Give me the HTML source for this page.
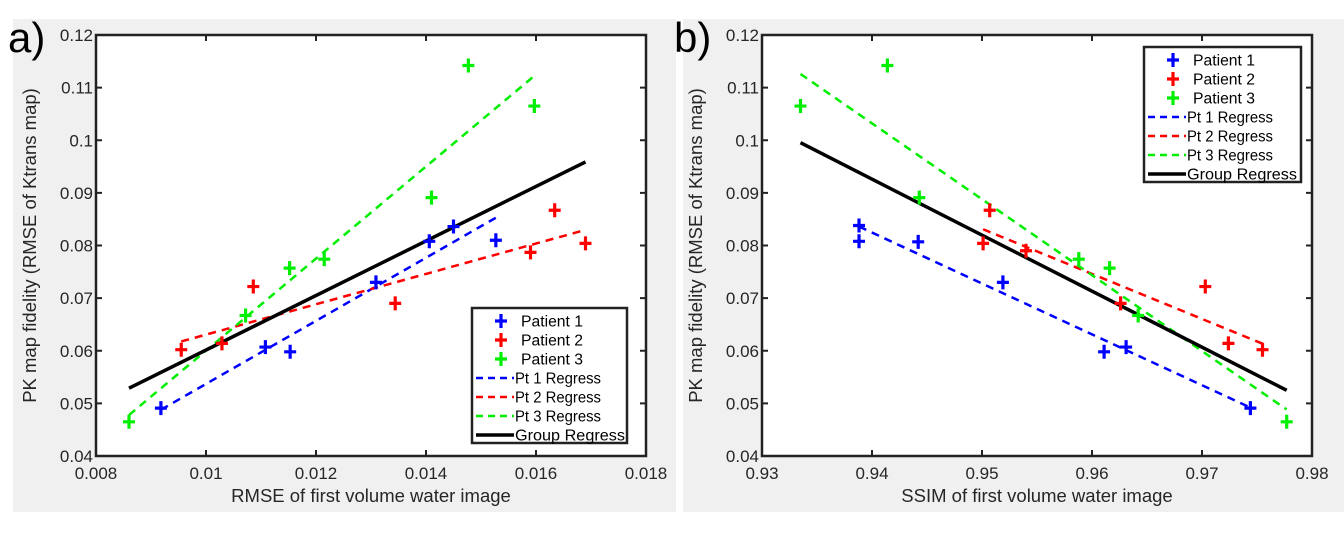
<!DOCTYPE html>
<html><head><meta charset="utf-8"><style>
html,body{margin:0;padding:0;background:#fff;}
svg{display:block;font-family:"Liberation Sans",sans-serif;}
</style></head><body>
<svg id="fig" width="1344" height="550" viewBox="0 0 1344 550">
<rect x="13" y="19" width="663" height="493" fill="#f0f0f0"/>
<rect x="683" y="19" width="661" height="493" fill="#f0f0f0"/>
<text x="8" y="52" font-size="42" fill="#000">a)</text>
<text x="674" y="52" font-size="42" fill="#000">b)</text>
</svg>
<script>
const ktrans1=[0.0491,0.0607,0.0598,0.0730,0.0808,0.0836,0.0810];
const ktrans2=[0.0602,0.0614,0.0722,0.0690,0.0787,0.0867,0.0804];
const ktrans3=[0.0465,0.0667,0.0757,0.0774,0.0891,0.1142,0.1065];
const rmse1=[0.00918,0.01108,0.01153,0.01309,0.01406,0.0145,0.01527];
const rmse2=[0.00955,0.01029,0.01086,0.01344,0.0159,0.01634,0.0169];
const rmse3=[0.0086,0.01072,0.01152,0.01215,0.0141,0.01477,0.01597];
const ssimY1=[0.0808,0.0838,0.0807,0.0730,0.0598,0.0607,0.0491];
const ssimY2=[0.0804,0.0867,0.0790,0.0690,0.0722,0.0614,0.0602];
const ssimY3=[0.1065,0.1142,0.0891,0.0774,0.0757,0.0667,0.0465];
const ssim1=[0.93882,0.93882,0.9442,0.9519,0.9611,0.9631,0.9744];
const ssim2=[0.9501,0.9507,0.954,0.9626,0.9703,0.9724,0.9755];
const ssim3=[0.9335,0.9414,0.9443,0.9588,0.9616,0.9642,0.9777];
const yTicks=[0.04,0.05,0.06,0.07,0.08,0.09,0.1,0.11,0.12];
const yTickLabels=["0.04","0.05","0.06","0.07","0.08","0.09","0.1","0.11","0.12"];
const xTicksA=[0.008,0.01,0.012,0.014,0.016,0.018];
const xTickLabelsA=["0.008","0.01","0.012","0.014","0.016","0.018"];
const xTicksB=[0.93,0.94,0.95,0.96,0.97,0.98];
const xTickLabelsB=["0.93","0.94","0.95","0.96","0.97","0.98"];
const legendLabels=["Patient 1","Patient 2","Patient 3","Pt 1 Regress","Pt 2 Regress","Pt 3 Regress","Group Regress"];
const colors=["#0000ff","#ff0000","#00ee00"];

const NS="http://www.w3.org/2000/svg";
const svg=document.getElementById('fig');
function mk(tag,attrs,parent){const e=document.createElementNS(NS,tag);for(const k in attrs)e.setAttribute(k,attrs[k]);(parent||svg).appendChild(e);return e;}
function ols(xs,ys){const n=xs.length;let mx=0,my=0;for(let i=0;i<n;i++){mx+=xs[i];my+=ys[i];}mx/=n;my/=n;let sxy=0,sxx=0;for(let i=0;i<n;i++){sxy+=(xs[i]-mx)*(ys[i]-my);sxx+=(xs[i]-mx)**2;}const b=sxy/sxx;return [b,my-b*mx];}

function panel(id,L,R,xmin,xmax,xt,xtl,xs,ys,xlabel,leg){
  const T=35,B=456;
  const sx=v=>L+(v-xmin)/(xmax-xmin)*(R-L);
  const sy=v=>B-(v-0.04)/(0.08)*(B-T);
  const g=mk('g',{});
  
  
  const bg=mk('rect',{x:L,y:T,width:R-L,height:B-T,fill:'#fff'},g);
  
  
  yTicks.forEach((v,i)=>{
    mk('line',{x1:L,x2:L+6,y1:sy(v),y2:sy(v),stroke:'#222','stroke-width':2},g);
    mk('line',{x1:R,x2:R-6,y1:sy(v),y2:sy(v),stroke:'#222','stroke-width':2},g);
    const t=mk('text',{x:L-3,y:sy(v)+6,'font-size':17,'text-anchor':'end',fill:'#262626'},g);
    t.textContent=yTickLabels[i];
    
    
  });
  xt.forEach((v,i)=>{
    mk('line',{x1:sx(v),x2:sx(v),y1:B,y2:B-6,stroke:'#222','stroke-width':2},g);
    mk('line',{x1:sx(v),x2:sx(v),y1:T,y2:T+6,stroke:'#222','stroke-width':2},g);
    const t=mk('text',{x:sx(v),y:B+23,'font-size':17,'text-anchor':'middle',fill:'#262626'},g);
    t.textContent=xtl[i];
    
    
  });
  const xl=mk('text',{x:(L+R)/2,y:B+46,'font-size':18.5,'text-anchor':'middle',fill:'#262626'},g);
  xl.textContent=xlabel;
  
  
  const yl=mk('text',{x:0,y:0,'font-size':18.5,'text-anchor':'middle',fill:'#262626',transform:`translate(${L-60},${(T+B)/2}) rotate(-90)`},g);
  yl.textContent='PK map fidelity (RMSE of Ktrans map)';
  
  
  const allx=[],ally=[];
  for(let k=0;k<3;k++){
    const [b,a]=ols(xs[k],ys[k]);
    const x0=Math.min(...xs[k]),x1=Math.max(...xs[k]);
    const ln=mk('line',{x1:sx(x0),y1:sy(a+b*x0),x2:sx(x1),y2:sy(a+b*x1),stroke:colors[k],'stroke-width':2.5,'stroke-dasharray':'8,6'},g);
    
    
    allx.push(...xs[k]);ally.push(...ys[k]);
  }
  const [gb,ga]=ols(allx,ally);
  const gx0=Math.min(...allx),gx1=Math.max(...allx);
  const gl=mk('line',{x1:sx(gx0),y1:sy(ga+gb*gx0),x2:sx(gx1),y2:sy(ga+gb*gx1),stroke:'#000','stroke-width':3.5},g);
  
  
  for(let k=0;k<3;k++){
    xs[k].forEach((v,i)=>{
      const cx=sx(v),cy=sy(ys[k][i]);
      const p=mk('path',{d:`M${cx-6},${cy}H${cx+6}M${cx},${cy-7}V${cy+7}`,stroke:colors[k],'stroke-width':3.2},g);
      
      
    });
  }
  mk('rect',{x:L,y:T,width:R-L,height:B-T,fill:'none',stroke:'#222','stroke-width':2.5},g);
  const lg=mk('g',{},g);
  
  
  mk('rect',{x:leg.x,y:leg.y,width:leg.w,height:leg.h,fill:'#fff',stroke:'#222','stroke-width':2.5},lg);
  legendLabels.forEach((lab,i)=>{
    const cy=leg.y+13+i*19;
    const ex=leg.x+4;
    if(i<3){
      const cx=ex+25;
      mk('path',{d:`M${cx-6},${cy}H${cx+6}M${cx},${cy-7}V${cy+7}`,stroke:colors[i],'stroke-width':3.2},lg);
    }else if(i<6){
      mk('line',{x1:ex,x2:ex+38,y1:cy,y2:cy,stroke:colors[i-3],'stroke-width':2.5,'stroke-dasharray':'7,5'},lg);
    }else{
      mk('line',{x1:ex,x2:ex+38,y1:cy,y2:cy,stroke:'#000','stroke-width':3.5},lg);
    }
    const t=mk('text',{x:i<3?ex+45:ex+39,y:cy+5.5,'font-size':15.5,fill:'#000',textLength:i<3?62:(i<6?86:110),lengthAdjust:'spacingAndGlyphs'},lg);
    t.textContent=lab;
    
    
  });
}
panel('panel-a',96,646,0.008,0.018,xTicksA,xTickLabelsA,[rmse1,rmse2,rmse3],[ktrans1,ktrans2,ktrans3],'RMSE of first volume water image',{x:472,y:308,w:155,h:135});
panel('panel-b',762,1312,0.93,0.98,xTicksB,xTickLabelsB,[ssim1,ssim2,ssim3],[ssimY1,ssimY2,ssimY3],'SSIM of first volume water image',{x:1144,y:47,w:157,h:135});
</script>
</body></html>
